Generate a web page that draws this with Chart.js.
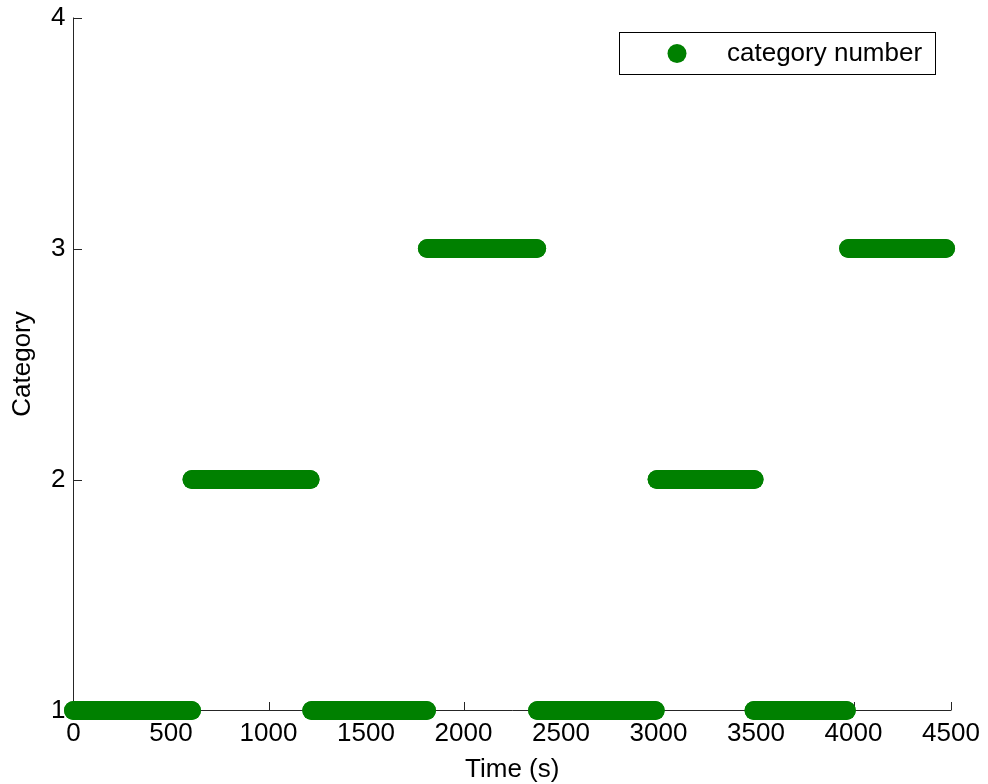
<!DOCTYPE html>
<html>
<head>
<meta charset="utf-8">
<title>Category number over time</title>
<script src="https://cdn.jsdelivr.net/npm/chart.js@4/dist/chart.umd.min.js"></script>
<style>
  html, body { margin: 0; padding: 0; background: #ffffff; }
  #wrap { width: 988px; height: 784px; }
</style>
</head>
<body>
<div id="wrap"><canvas id="chart" width="988" height="784"></canvas></div>
<script>
// Runs of constant category: start time (s), end time (s), category number
const segStart    = [0,   608, 1222, 1815, 2380, 2993, 3490, 3975];
const segEnd      = [605, 1213, 1810, 2375, 2983, 3490, 3963, 4472];
const segCategory = [1,   2,    1,    3,    1,    2,    1,    3];

// Axis ticks
const xTickValues = [0, 500, 1000, 1500, 2000, 2500, 3000, 3500, 4000, 4500];
const yTickValues = [1, 2, 3, 4];

const seriesLabel = 'category number';
const xTitle = 'Time (s)';
const yTitle = 'Category';

const GREEN = '#008000';
const AXIS = '#262626';
const FONT = "'Liberation Sans', Arial, Helvetica, sans-serif";
const MARKER_R = 9.5;

Chart.defaults.font.family = FONT;
Chart.defaults.color = '#000000';

// One dataset per run; dense markers merge into a rounded bar
const datasets = segStart.map((s, i) => ({
  label: seriesLabel,
  data: [{ x: s, y: segCategory[i] }, { x: segEnd[i], y: segCategory[i] }],
  showLine: true,
  borderColor: GREEN,
  borderWidth: MARKER_R * 2,
  borderCapStyle: 'round',
  pointRadius: MARKER_R,
  pointHoverRadius: MARKER_R,
  pointBackgroundColor: GREEN,
  pointBorderWidth: 0,
  clip: false
}));

// Left/bottom axis lines with inward tick marks, drawn beneath the data
const axisPlugin = {
  id: 'axisLines',
  beforeDatasetsDraw(chart) {
    const { ctx, chartArea: a, scales: { x, y } } = chart;
    const tl = 8.5;
    ctx.save();
    ctx.strokeStyle = AXIS;
    ctx.lineWidth = 1;
    ctx.beginPath();
    ctx.moveTo(a.left, a.top);
    ctx.lineTo(a.left, a.bottom);
    ctx.lineTo(a.right, a.bottom);
    xTickValues.forEach(v => {
      const px = Math.round(x.getPixelForValue(v)) + 0.5;
      ctx.moveTo(px, a.bottom);
      ctx.lineTo(px, a.bottom - tl);
    });
    yTickValues.forEach(v => {
      const py = Math.round(y.getPixelForValue(v)) + 0.5;
      ctx.moveTo(a.left, py);
      ctx.lineTo(a.left + tl, py);
    });
    ctx.stroke();
    ctx.restore();
  }
};

// Boxed legend in the upper right of the plot area
const legendBoxPlugin = {
  id: 'legendBox',
  afterDraw(chart) {
    const { ctx, chartArea: a } = chart;
    const right = Math.round(a.right - 16) + 0.5;
    const w = 316, h = 42;
    const left = right - w;
    const top = Math.round(a.top + 14) + 0.5;
    const cy = top + h / 2;
    ctx.save();
    ctx.fillStyle = '#ffffff';
    ctx.fillRect(left, top, w, h);
    ctx.strokeStyle = '#000000';
    ctx.lineWidth = 1;
    ctx.strokeRect(left, top, w, h);
    ctx.fillStyle = GREEN;
    ctx.beginPath();
    ctx.arc(left + 57.5, cy, MARKER_R, 0, Math.PI * 2);
    ctx.fill();
    ctx.fillStyle = '#000000';
    ctx.font = '26px ' + FONT;
    ctx.textAlign = 'left';
    ctx.textBaseline = 'middle';
    ctx.fillText(seriesLabel, left + 107.5, cy);
    ctx.restore();
  }
};

const plainTick = v => String(v);

new Chart(document.getElementById('chart'), {
  type: 'scatter',
  data: { datasets },
  plugins: [axisPlugin, legendBoxPlugin],
  options: {
    responsive: false,
    animation: false,
    events: [],
    layout: { padding: { left: 0, top: 17.5, right: 37, bottom: 0 } },
    plugins: {
      legend: { display: false },
      tooltip: { enabled: false }
    },
    scales: {
      x: {
        type: 'linear',
        min: 0,
        max: 4500,
        afterBuildTicks(scale) { scale.ticks = xTickValues.map(v => ({ value: v })); },
        afterFit(scale) {
          scale.height = 73.5;
          scale.paddingLeft = 0;
          scale.paddingRight = 0;
        },
        grid: { display: false, drawTicks: false },
        border: { display: false },
        ticks: { font: { size: 26 }, color: '#000000', padding: 8, maxRotation: 0, autoSkip: false, callback: plainTick },
        title: { display: true, text: xTitle, font: { size: 26, lineHeight: 1.1 }, color: '#000000', padding: { top: 0, bottom: 0 } }
      },
      y: {
        type: 'linear',
        min: 1,
        max: 4,
        afterBuildTicks(scale) { scale.ticks = yTickValues.map(v => ({ value: v })); },
        afterFit(scale) {
          scale.width = 73.5;
          scale.paddingTop = 0;
          scale.paddingBottom = 0;
        },
        grid: { display: false, drawTicks: false },
        border: { display: false },
        ticks: { font: { size: 26 }, color: '#000000', padding: 8, autoSkip: false, callback: plainTick },
        title: { display: true, text: yTitle, font: { size: 26 }, color: '#000000', padding: { top: 7, bottom: 0 } }
      }
    }
  }
});
</script>
</body>
</html>
